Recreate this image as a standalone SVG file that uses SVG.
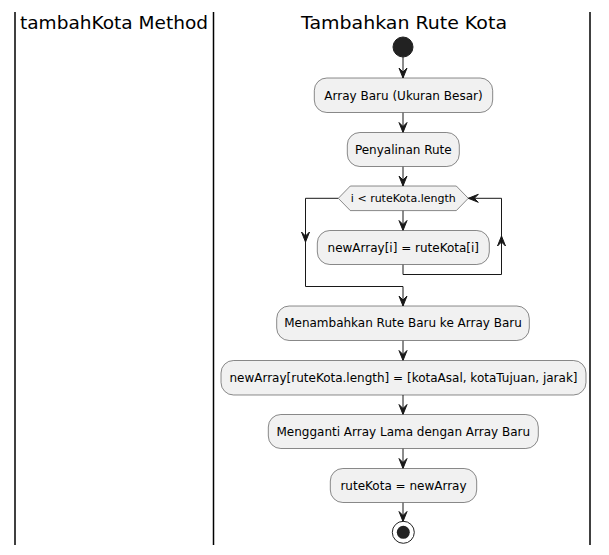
<svg xmlns="http://www.w3.org/2000/svg" width="609" height="555" viewBox="0 0 609 555">
<defs>
<style>
.lane{stroke:#000;stroke-width:1.5;fill:none}
.title{font-family:"DejaVu Sans",sans-serif;font-size:18.5px;fill:#000}
.box{fill:#F1F1F1;stroke:#181818;stroke-width:0.5}
.t{font-family:"DejaVu Sans",sans-serif;font-size:12px;fill:#000;text-anchor:middle}
.t11{font-family:"DejaVu Sans",sans-serif;font-size:11px;fill:#000;text-anchor:middle}
.ln{stroke:#181818;stroke-width:1;fill:none}
.ah{fill:#181818;stroke:#181818;stroke-width:1}
</style>
</defs>
<g id="lanes">
<line class="lane" x1="15" y1="12" x2="15" y2="545"/>
<line class="lane" x1="213.5" y1="12" x2="213.5" y2="545"/>
<line class="lane" x1="590" y1="12" x2="590" y2="545"/>
<text class="title" x="20" y="29" textLength="188" lengthAdjust="spacingAndGlyphs">tambahKota Method</text>
<text class="title" x="301" y="29" textLength="206" lengthAdjust="spacingAndGlyphs">Tambahkan Rute Kota</text>
</g>
<g id="connectors">
<line class="ln" x1="403" y1="57" x2="403" y2="78"/>
<polygon class="ah" points="399,68 403,78 407,68 403,72"/>
<line class="ln" x1="403" y1="112.5" x2="403" y2="132.5"/>
<polygon class="ah" points="399,122.5 403,132.5 407,122.5 403,126.5"/>
<line class="ln" x1="403" y1="166.5" x2="403" y2="186"/>
<polygon class="ah" points="399,176 403,186 407,176 403,180"/>
<line class="ln" x1="403" y1="210.5" x2="403" y2="230.5"/>
<polygon class="ah" points="399,220.5 403,230.5 407,220.5 403,224.5"/>
<polyline class="ln" points="403,264.5 403,274.5 501.5,274.5 501.5,198.3 468.3,198.3"/>
<polygon class="ah" points="497.5,246 501.5,236 505.5,246 501.5,242"/>
<polygon class="ah" points="478.3,194.3 468.3,198.3 478.3,202.3 474.3,198.3"/>
<polyline class="ln" points="338.3,198.3 305.5,198.3 305.5,286.5 403,286.5 403,306"/>
<polygon class="ah" points="301.5,232 305.5,242 309.5,232 305.5,236"/>
<polygon class="ah" points="399,296 403,306 407,296 403,300"/>
<line class="ln" x1="403" y1="340.5" x2="403" y2="360.5"/>
<polygon class="ah" points="399,350.5 403,360.5 407,350.5 403,354.5"/>
<line class="ln" x1="403" y1="395" x2="403" y2="414.5"/>
<polygon class="ah" points="399,404.5 403,414.5 407,404.5 403,408.5"/>
<line class="ln" x1="403" y1="448.5" x2="403" y2="468.5"/>
<polygon class="ah" points="399,458.5 403,468.5 407,458.5 403,462.5"/>
<line class="ln" x1="403" y1="502.5" x2="403" y2="521.5"/>
<polygon class="ah" points="399,511.5 403,521.5 407,511.5 403,515.5"/>
</g>
<g id="start"><circle cx="403" cy="47" r="10" fill="#222222" stroke="#222222" stroke-width="1"/></g>
<g id="n1"><rect class="box" x="314.3" y="78" width="178.4" height="34.5" rx="12.5"/><text class="t" x="403.5" y="99.5">Array Baru (Ukuran Besar)</text></g>
<g id="n2"><rect class="box" x="347.3" y="132.5" width="112" height="34" rx="12.5"/><text class="t" x="403.3" y="153.7">Penyalinan Rute</text></g>
<g id="loop"><polygon class="box" points="338.3,198.3 350.3,186 456.3,186 468.3,198.3 456.3,210.6 350.3,210.6"/><text class="t11" x="403.3" y="202.2">i &lt; ruteKota.length</text></g>
<g id="n3"><rect class="box" x="317.3" y="230.5" width="172" height="34" rx="12.5"/><text class="t" x="403.3" y="251.7">newArray[i] = ruteKota[i]</text></g>
<g id="n4"><rect class="box" x="276.7" y="306" width="252.6" height="34.5" rx="12.5"/><text class="t" x="403" y="327.3">Menambahkan Rute Baru ke Array Baru</text></g>
<g id="n5"><rect class="box" x="221" y="360.5" width="365" height="34.5" rx="12.5"/><text class="t" x="403.5" y="381.8">newArray[ruteKota.length] = [kotaAsal, kotaTujuan, jarak]</text></g>
<g id="n6"><rect class="box" x="268.3" y="414.5" width="270" height="34" rx="12.5"/><text class="t" x="403.3" y="435.7">Mengganti Array Lama dengan Array Baru</text></g>
<g id="n7"><rect class="box" x="330.3" y="468.5" width="146.4" height="34" rx="12.5"/><text class="t" x="403.5" y="489.7">ruteKota = newArray</text></g>
<g id="end"><circle cx="403.3" cy="532.3" r="11" fill="none" stroke="#222222" stroke-width="1"/><circle cx="403.3" cy="532.3" r="6.5" fill="#222222"/></g>
</svg>
